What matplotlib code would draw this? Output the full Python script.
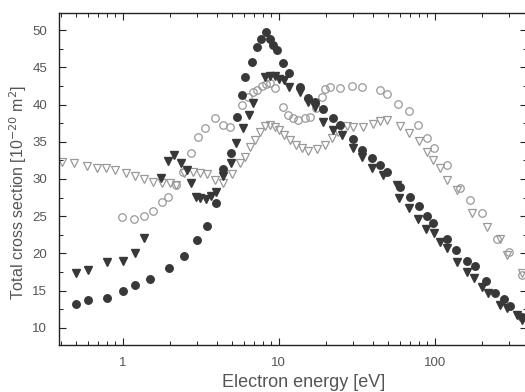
import matplotlib
matplotlib.use("Agg")
import matplotlib.pyplot as plt
from matplotlib.ticker import MultipleLocator, LogLocator, FixedFormatter, FixedLocator

plt.rcParams['font.family'] = ['Liberation Sans', 'DejaVu Sans']

# filled circles
e_circ = [0.502, 0.60, 0.79, 1.0, 1.2, 1.5, 1.98, 2.47, 2.99, 3.47, 3.96, 4.39, 4.95, 5.4,
          5.82, 6.08, 6.74, 7.26, 7.7, 8.29, 8.79, 9.2, 9.75, 10.7, 11.7, 13.7, 15.4, 17.1,
          19.2, 22.3, 24.7, 29.9, 34.2, 39.6, 44.6, 49.4, 59.9, 69.5, 79.4, 89.4, 97.7, 120,
          138, 161, 181, 215, 245, 279, 304, 363]
q_circ = [13.2, 13.76, 14.0, 14.97, 15.8, 16.6, 18.05, 19.7, 21.8, 23.7, 26.8, 31.3, 33.5, 38.3,
          41.3, 43.7, 45.7, 47.7, 48.8, 49.7, 48.8, 48.0, 47.3, 45.6, 44.2, 42.3, 40.9, 40.3,
          39.4, 38.2, 37.2, 35.4, 33.9, 32.8, 31.9, 30.9, 28.9, 27.6, 26.4, 25.0, 24.1, 21.9,
          20.5, 19.0, 18.3, 16.3, 14.7, 13.9, 13.0, 11.5]

# filled triangles
e_tri = [0.502, 0.60, 0.79, 1.0, 1.2, 1.37, 1.76, 1.95, 2.13, 2.36, 2.58, 2.74, 2.95, 3.13,
         3.43, 3.68, 3.96, 4.39, 4.95, 5.33, 5.9, 6.46, 6.86, 8.17, 8.79, 9.48, 10.05, 10.8,
         11.65, 13.7, 15.4, 17.1, 19.2, 22.3, 25.5, 29.9, 34.2, 39.6, 46.7, 57.4, 59.2, 68.5,
         78.2, 88, 99, 108, 120, 139, 161, 178, 200, 220, 263, 290, 335, 363]
q_tri = [17.4, 17.8, 18.9, 19.0, 20.1, 22.1, 30.1, 32.4, 33.2, 32.1, 31.2, 29.5, 27.6, 27.4,
         27.3, 27.7, 28.3, 30.4, 32.1, 34.8, 36.8, 38.6, 40.2, 43.7, 43.8, 43.8, 43.4, 43.3,
         42.3, 41.7, 40.3, 39.7, 37.7, 36.6, 35.9, 34.2, 33.0, 31.5, 30.5, 29.2, 27.4, 26.1,
         24.6, 23.3, 22.8, 21.5, 20.7, 18.9, 17.5, 16.7, 15.5, 14.7, 13.1, 12.7, 11.7, 11.1]

# open circles
e_ocirc = [0.99, 1.18, 1.37, 1.56, 1.79, 1.95, 2.2, 2.43, 2.74, 3.04, 3.37, 3.91, 4.39, 4.87,
           5.82, 6.36, 6.85, 7.26, 7.82, 8.3, 8.8, 9.48, 10.7, 11.5, 12.4, 13.3, 14.8, 15.9,
           17.3, 18.9, 19.8, 21.3, 24.7, 29.5, 34.2, 44.7, 49.4, 58.2, 68.5, 78.2, 89.4, 99,
           120, 145, 169, 201, 252, 300, 363]
q_ocirc = [24.9, 24.6, 25.0, 25.7, 26.9, 27.6, 29.2, 30.9, 33.5, 35.6, 36.8, 38.2, 37.2, 37.0,
           39.9, 41.0, 41.7, 41.9, 42.5, 42.8, 42.9, 42.2, 39.7, 38.6, 38.2, 37.9, 38.2, 38.3,
           39.5, 41.0, 42.1, 42.3, 42.2, 42.5, 42.3, 41.9, 41.4, 40.1, 39.1, 37.2, 35.5, 34.2,
           31.9, 28.8, 27.2, 25.4, 21.9, 20.2, 17.1]

# open triangles
e_otri = [0.408, 0.488, 0.59, 0.685, 0.78, 0.89, 1.05, 1.2, 1.37, 1.56, 1.79, 2.0, 2.2, 2.47,
          2.82, 3.13, 3.47, 3.91, 4.39, 5.0, 5.66, 6.08, 6.55, 7.05, 7.6, 8.17, 8.8, 9.48,
          10.05, 10.9, 11.8, 12.9, 14.1, 15.4, 17.6, 19.8, 22.0, 24.0, 27.4, 29.9, 34.7, 40.2,
          44.7, 49.4, 59.9, 68.5, 79.4, 89.4, 97.7, 108, 120, 139, 174, 216, 262, 290, 363]
q_otri = [32.3, 32.1, 31.7, 31.5, 31.5, 31.2, 30.8, 30.4, 30.0, 29.6, 29.5, 29.5, 29.2, 30.8,
          30.9, 30.8, 30.7, 29.9, 29.5, 30.7, 32.1, 33.0, 34.3, 35.2, 36.3, 37.1, 37.2, 37.0,
          36.6, 35.9, 35.2, 34.6, 34.2, 33.8, 34.0, 34.6, 35.5, 36.3, 37.1, 37.0, 37.0, 37.4,
          37.8, 37.9, 37.1, 36.2, 35.1, 33.6, 32.6, 31.5, 29.9, 28.5, 25.4, 23.6, 21.9, 19.8, 17.4]

x_ticks = [1, 10, 100]
x_labels = ["1", "10", "100"]

fig = plt.figure(figsize=(5.25, 3.92), dpi=100)
ax = fig.add_axes([0.1133, 0.1199, 0.8905, 0.847])

dark = '#383838'
light = '#999999'
ax.plot(e_ocirc, q_ocirc, 'o', ms=5.4, mfc='none', mec=light, mew=0.9)
ax.plot(e_otri, q_otri, 'v', ms=6.0, mfc='none', mec=light, mew=0.9)
ax.plot(e_tri, q_tri, 'v', ms=6.0, color=dark, mec=dark)
ax.plot(e_circ, q_circ, 'o', ms=5.4, color=dark, mec=dark)

ax.set_xscale('log')
ax.set_xlim(0.394, 391)
ax.set_ylim(7.7, 52.3)
ax.xaxis.set_major_locator(FixedLocator(x_ticks))
ax.xaxis.set_major_formatter(FixedFormatter(x_labels))
ax.xaxis.set_minor_locator(LogLocator(base=10, subs=range(2, 10)))
ax.yaxis.set_major_locator(MultipleLocator(5))
ax.yaxis.set_minor_locator(MultipleLocator(2.5))
ax.set_yticks(range(10, 55, 5))

ax.tick_params(which='both', direction='in', top=True, right=True, colors='#222222',
               labelcolor='#555555', labelsize=9.5)
ax.tick_params(which='major', length=5, width=0.8)
ax.tick_params(which='minor', length=3, width=0.7)
ax.tick_params(axis='x', pad=9)
ax.tick_params(axis='y', pad=9)
for s in ax.spines.values():
    s.set_color('#222222')
    s.set_linewidth(1.0)

ax.set_xlabel("Electron energy [eV]", fontsize=13, color='#555555')
ax.set_ylabel("Total cross section [10$^{-20}$ m$^2$]", fontsize=11.5, color='#555555')
# the scanned figure has its axis titles a bit off-centre
ax.xaxis.set_label_coords(0.523, -0.088)
ax.yaxis.set_label_coords(-0.066, 0.46)

fig.savefig("out.png", dpi=100)
